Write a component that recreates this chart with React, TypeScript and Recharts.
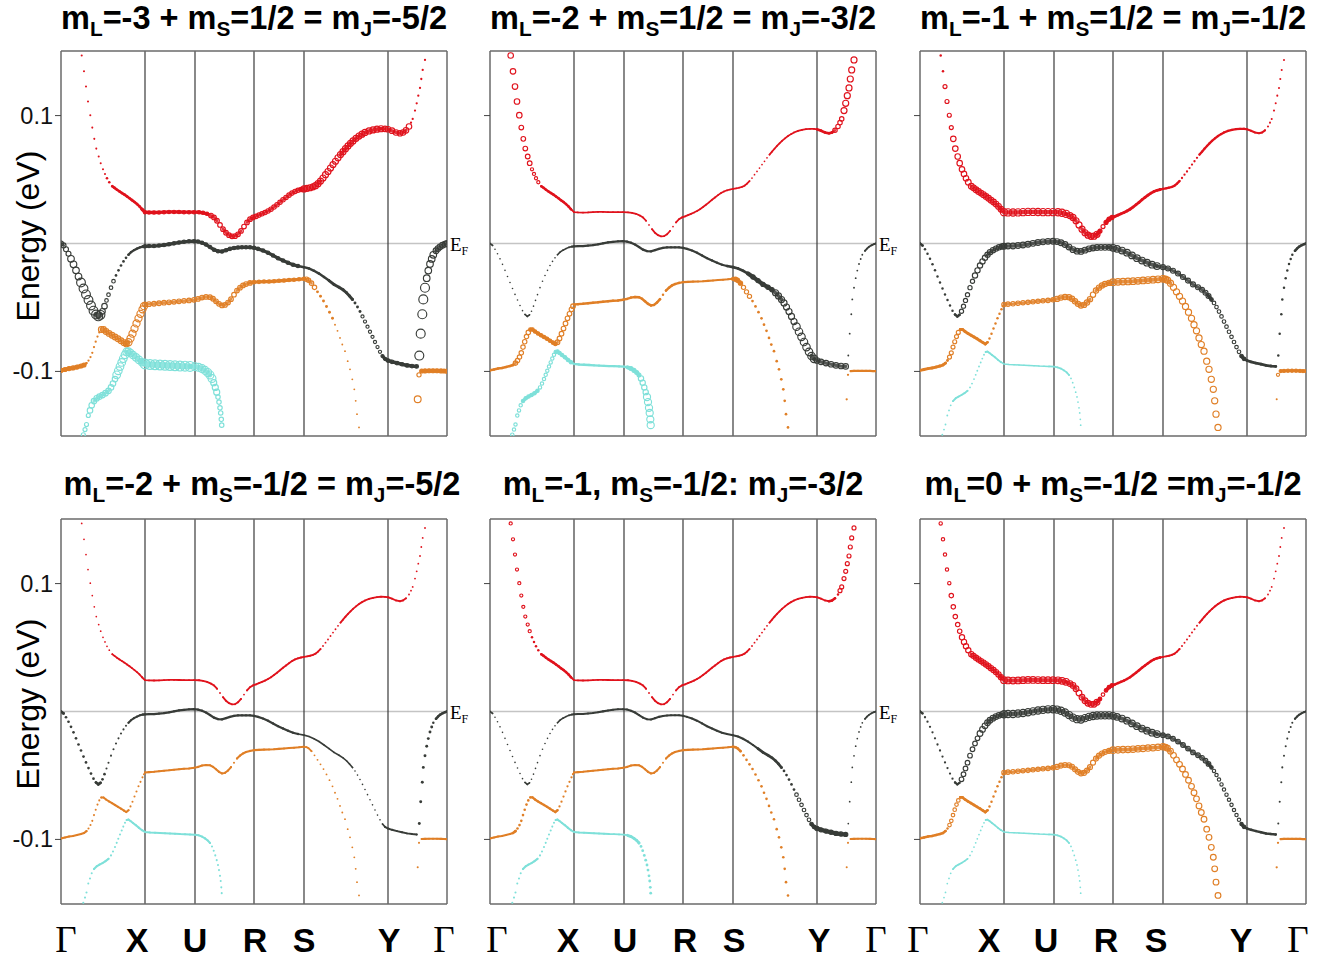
import React from 'react';
import { ComposedChart, Line, Scatter, XAxis, YAxis, ReferenceLine } from 'recharts';

type Pt = [number, number];
type Wt = [number, number];

// path length along Γ-X-U-R-S-Y-Γ (arbitrary units) and energies in eV
const PATH_TICKS = [0, 84, 134, 193, 243, 327, 386];
const PATH_LABELS = ['Γ', 'X', 'U', 'R', 'S', 'Y', 'Γ'];
const ENERGY_TICKS = [0.1, -0.1];
const E_RANGE: [number, number] = [-0.1505, 0.1505];

const RED_BAND: Pt[] = [
  [20.7, 0.147], [23, 0.1346], [25, 0.1227], [27, 0.111], [29.3, 0.1003], [31.3, 0.0906],
  [33.3, 0.0818], [35.3, 0.0742], [37.7, 0.068], [39.7, 0.0628], [42, 0.058], [44, 0.0544],
  [46, 0.051], [48.3, 0.0479], [51.3, 0.0448], [53.5, 0.0435], [56, 0.042], [58.5, 0.0407],
  [61, 0.0394], [63.5, 0.0382], [66, 0.0368], [68.5, 0.0354], [71, 0.0339], [73.5, 0.0324],
  [76, 0.0308], [78.5, 0.029], [81, 0.0268], [84, 0.0245], [88, 0.0243], [93, 0.0242],
  [98, 0.0243], [103, 0.0245], [108, 0.0247], [113, 0.0247], [118, 0.0246], [123, 0.0245],
  [128, 0.0245], [133, 0.0245], [138, 0.0244], [142, 0.024], [146, 0.0232], [150, 0.0218],
  [153, 0.0204], [156, 0.0178], [159, 0.0145], [162, 0.0112], [165, 0.0084], [168, 0.0065],
  [171, 0.0056], [174, 0.0057], [177, 0.0072], [180, 0.0098], [183, 0.0132], [186, 0.0165],
  [189, 0.019], [192, 0.0204], [195, 0.0212], [198, 0.0222], [201, 0.0232], [204, 0.0242],
  [207, 0.0254], [210, 0.0268], [213, 0.0285], [216, 0.0303], [219, 0.0322], [222, 0.0342],
  [225, 0.036], [228, 0.0378], [231, 0.0394], [234, 0.0407], [237, 0.0416], [240, 0.0422],
  [243, 0.0427], [246, 0.0431], [249, 0.0436], [252, 0.0443], [254.5, 0.0452], [257, 0.0468],
  [259.5, 0.0488], [262, 0.0512], [264.5, 0.0538], [267, 0.0563], [269.5, 0.059], [272, 0.0617],
  [274.5, 0.0643], [277, 0.067], [279.5, 0.0695], [282, 0.0718], [284.5, 0.0741], [287, 0.0763],
  [289.5, 0.0783], [292, 0.0802], [295, 0.0822], [298, 0.084], [301, 0.0855], [304, 0.0868],
  [308, 0.088], [312, 0.0888], [316, 0.0894], [320, 0.0897], [324, 0.0896], [327, 0.0893],
  [331, 0.0882], [335, 0.0868], [339, 0.0862], [342, 0.0868], [345, 0.0885], [348, 0.0915],
  [350, 0.0945], [351.7, 0.0974], [354, 0.1039], [355.7, 0.1096], [357.3, 0.1156], [359, 0.1216],
  [360.3, 0.1286], [361.7, 0.1357], [364, 0.1435],
];

const GRAY_BAND: Pt[] = [
  [0, 0], [2.5, -0.0015], [5, -0.0045], [7.5, -0.008], [10, -0.012], [12.5, -0.0163],
  [15, -0.021], [17.5, -0.0258], [20, -0.0305], [22.5, -0.0352], [25, -0.0398], [27.5, -0.0442],
  [30, -0.0485], [32.5, -0.0525], [35, -0.0555], [37.3, -0.057], [39.5, -0.0558], [41.5, -0.053],
  [43.5, -0.049], [45.5, -0.0445], [47.5, -0.04], [50, -0.0345], [52.5, -0.0295], [55, -0.025],
  [57.5, -0.021], [60, -0.0172], [62.5, -0.014], [65, -0.0112], [67.5, -0.0088], [70, -0.0068],
  [73, -0.0052], [76, -0.004], [79, -0.003], [82, -0.0024], [84, -0.0022], [88, -0.002],
  [93, -0.002], [98, -0.0016], [103, -0.0012], [108, -0.0006], [113, 0.0001], [118, 0.0008],
  [123, 0.0013], [128, 0.0017], [133, 0.0018], [137, 0.0015], [141, 0.0006], [145, -0.0008],
  [149, -0.0028], [153, -0.0048], [157, -0.006], [161, -0.0062], [165, -0.0052], [169, -0.0042],
  [173, -0.0035], [177, -0.0031], [181, -0.003], [185, -0.003], [189, -0.003], [193, -0.0034],
  [197, -0.0042], [202, -0.0055], [207, -0.0072], [212, -0.0093], [217, -0.0115], [222, -0.0133],
  [227, -0.015], [232, -0.0166], [237, -0.0176], [243, -0.0185], [248, -0.0195], [253, -0.0213],
  [258, -0.0235], [263, -0.0262], [268, -0.029], [273, -0.032], [278, -0.0342], [282, -0.0362],
  [285.5, -0.0385], [288.5, -0.041], [291.5, -0.0438], [294, -0.0465], [296.5, -0.0497],
  [299, -0.0532], [301.5, -0.057], [304, -0.061], [306.5, -0.065], [309, -0.069], [311.5, -0.073],
  [314, -0.077], [316.5, -0.081], [319, -0.0847], [321.5, -0.088], [324, -0.0902], [327, -0.0915],
  [331, -0.0925], [336, -0.0935], [341, -0.0944], [346, -0.0953], [351, -0.0958], [355.7, -0.0961],
  [358.3, -0.0876], [359.7, -0.0705], [361.3, -0.0553], [362.3, -0.0437], [364, -0.0346],
  [365.7, -0.0271], [367.3, -0.0212], [369, -0.016], [370.7, -0.0121], [372.3, -0.0088],
  [375, -0.0057], [377, -0.004], [379, -0.0026], [381.5, -0.0014], [384, -0.0005], [386, 0],
];

const ORANGE_BAND: Pt[] = [
  [0, -0.0992], [4, -0.0985], [8, -0.0978], [12, -0.0973], [16, -0.0966], [20, -0.0958],
  [23, -0.095], [25.5, -0.0935], [27.5, -0.0915], [29.5, -0.0888], [31.3, -0.0855], [33, -0.081],
  [34.7, -0.0768], [36.5, -0.0728], [38.3, -0.0695], [40.3, -0.0672], [42.5, -0.0672],
  [45, -0.0688], [48, -0.0703], [51, -0.0717], [54, -0.0731], [57, -0.0745], [60, -0.076],
  [63, -0.0775], [65.3, -0.0786], [67.5, -0.0772], [69.5, -0.0742], [71.5, -0.0705],
  [73.5, -0.0665], [75.5, -0.0625], [77.5, -0.0585], [79.5, -0.055], [81.5, -0.0515], [83, -0.049],
  [84, -0.0477], [88, -0.0474], [93, -0.0471], [98, -0.0467], [103, -0.0463], [108, -0.046],
  [113, -0.0456], [118, -0.0452], [123, -0.0448], [128, -0.0445], [133, -0.044], [137, -0.0433],
  [141, -0.0423], [145, -0.0418], [149, -0.042], [152, -0.0432], [155, -0.0452], [158, -0.0472],
  [161, -0.0484], [164, -0.048], [167, -0.0462], [170, -0.0435], [173, -0.04], [176, -0.0368],
  [179, -0.0345], [182, -0.0328], [185, -0.0317], [189, -0.0308], [193, -0.0302], [198, -0.03],
  [203, -0.0298], [208, -0.0297], [213, -0.0295], [218, -0.0292], [223, -0.0289], [228, -0.0286],
  [233, -0.0283], [238, -0.028], [243, -0.0276], [245.5, -0.0279], [247.5, -0.0287],
  [250.5, -0.031], [253.5, -0.0343], [256.5, -0.0378], [259.5, -0.0413], [262.5, -0.045],
  [265.5, -0.0492], [268.5, -0.0537], [271.5, -0.0585], [274, -0.0635], [276.5, -0.0683],
  [279, -0.0738], [281.3, -0.079], [284, -0.0842], [286.7, -0.092], [289, -0.0984],
  [291.3, -0.1062], [293.3, -0.114], [294.7, -0.123], [296, -0.1334], [298, -0.1438],
  [356.7, -0.1218], [358, -0.1027], [360.7, -0.0997], [364, -0.0996], [368, -0.0995],
  [372, -0.0995], [376, -0.0995], [380, -0.0996], [383, -0.0997], [386, -0.0998],
];

const CYAN_BAND: Pt[] = [
  [22.3, -0.1495], [24, -0.1455], [25.5, -0.1415], [27.3, -0.1345], [29, -0.1305], [30.7, -0.1265],
  [33, -0.1232], [35.7, -0.121], [38.5, -0.1197], [41.5, -0.1185], [44.5, -0.117], [47.5, -0.1152],
  [50, -0.1125], [52, -0.1095], [54, -0.106], [55.7, -0.1027], [57.3, -0.0995], [59, -0.0962],
  [60.7, -0.093], [62.3, -0.09], [64, -0.087], [65.7, -0.0848], [67.5, -0.0845], [69.5, -0.0856],
  [72, -0.0872], [75, -0.089], [78, -0.091], [81, -0.0928], [84, -0.0942], [89, -0.0946],
  [94, -0.0948], [99, -0.095], [104, -0.0952], [109, -0.0954], [114, -0.0956], [119, -0.0958],
  [124, -0.0959], [129, -0.0961], [134, -0.0963], [137.5, -0.0968], [141, -0.0978], [144, -0.0992],
  [146.7, -0.1008], [149, -0.1028], [151, -0.1055], [152.7, -0.1088], [154.3, -0.1125],
  [155.7, -0.1162], [157, -0.12], [158, -0.124], [159, -0.1285], [159.7, -0.1325], [160.3, -0.1375],
  [160.7, -0.142],
];

// projected weight of each band, as [path position from which it holds, weight]
const P1_RED: Wt[] = [[0, 0.08], [46, 0.13], [84, 0.2], [150, 0.32], [193, 0.3], [243, 0.45], [322, 0.4], [349, 0.1]];
const P1_GRAY: Wt[] = [[0, 0.35], [8, 0.5], [18, 0.7], [40, 0.4], [45, 0.22], [55, 0.14], [70, 0.1], [84, 0.2], [243, 0.12], [270, 0.16], [300, 0.18], [327, 0.22], [357, 0.72], [365, 0.5], [374, 0.42]];
const P1_ORANGE: Wt[] = [[0, 0.26], [24, 0.1], [39, 0.42], [66, 0.55], [84, 0.32], [193, 0.2], [244, 0.3], [256, 0.16], [272, 0.06], [356, 0.52], [357.5, 0.28], [359, 0.26]];
const P1_CYAN: Wt[] = [[0, 0.26], [29, 0.4], [55, 0.6], [66, 0.58], [84, 0.8], [134, 0.62], [152, 0.45], [157, 0.3]];

const P2_RED: Wt[] = [[0, 0.4], [31, 0.32], [40, 0.18], [50, 0.12], [84, 0.05], [330, 0.14], [345, 0.3], [352, 0.45]];
const P2_GRAY: Wt[] = [[0, 0.04], [84, 0.1], [243, 0.14], [262, 0.28], [285, 0.45], [305, 0.58], [327, 0.4], [356, 0.06]];
const P2_ORANGE: Wt[] = [[0, 0.12], [25, 0.3], [40, 0.2], [66, 0.32], [84, 0.12], [193, 0.08], [244, 0.28], [262, 0.14], [356, 0.1]];
const P2_CYAN: Wt[] = [[0, 0.2], [84, 0.1], [140, 0.25], [150, 0.38], [156, 0.55]];

const P3_RED: Wt[] = [[0, 0.12], [24, 0.26], [33, 0.4], [48, 0.42], [84, 0.56], [150, 0.45], [180, 0.26], [193, 0.15], [243, 0.1], [327, 0.08]];
const P3_GRAY: Wt[] = [[0, 0.12], [40, 0.28], [55, 0.38], [84, 0.42], [193, 0.5], [243, 0.35], [290, 0.22], [327, 0.15], [356, 0.12]];
const P3_ORANGE: Wt[] = [[0, 0.16], [28, 0.26], [40, 0.16], [66, 0.12], [84, 0.3], [134, 0.38], [193, 0.5], [244, 0.46], [356, 0.08], [358, 0.18]];
const P3_CYAN: Wt[] = [[0, 0.06], [84, 0.03], [134, 0.05]];

const P4_RED: Wt[] = [[0, 0.05], [84, 0.06], [350, 0.06]];
const P4_GRAY: Wt[] = [[0, 0.14], [45, 0.08], [84, 0.1], [243, 0.04], [327, 0.07], [356, 0.16], [372, 0.12]];
const P4_ORANGE: Wt[] = [[0, 0.08], [244, 0.06], [356, 0.08]];
const P4_CYAN: Wt[] = [[0, 0.08]];

const P5_RED: Wt[] = [[0, 0.18], [40, 0.12], [84, 0.06], [340, 0.12], [350, 0.26]];
const P5_GRAY: Wt[] = [[0, 0.04], [84, 0.08], [270, 0.14], [305, 0.22], [327, 0.28], [356, 0.05]];
const P5_ORANGE: Wt[] = [[0, 0.08], [25, 0.13], [40, 0.1], [84, 0.08], [244, 0.13], [356, 0.08]];
const P5_CYAN: Wt[] = [[0, 0.08], [84, 0.06], [140, 0.15]];

const P6_RED: Wt[] = [[0, 0.2], [30, 0.3], [40, 0.38], [84, 0.5], [150, 0.42], [180, 0.22], [193, 0.12], [243, 0.07], [327, 0.06]];
const P6_GRAY: Wt[] = [[0, 0.1], [40, 0.32], [60, 0.42], [84, 0.56], [193, 0.5], [243, 0.32], [290, 0.2], [327, 0.12], [356, 0.08]];
const P6_ORANGE: Wt[] = [[0, 0.12], [28, 0.22], [40, 0.14], [66, 0.12], [84, 0.3], [134, 0.35], [193, 0.48], [244, 0.42], [356, 0.1]];
const P6_CYAN: Wt[] = [[0, 0.05], [84, 0.03], [134, 0.05]];

// title pieces that follow m_L, m_S and m_J
const TITLE_1 = ['=-3 + ', '=1/2 = ', '=-5/2'];
const TITLE_2 = ['=-2 + ', '=1/2 = ', '=-3/2'];
const TITLE_3 = ['=-1 + ', '=1/2 = ', '=-1/2'];
const TITLE_4 = ['=-2 + ', '=-1/2 = ', '=-5/2'];
const TITLE_5 = ['=-1, ', '=-1/2: ', '=-3/2'];
const TITLE_6 = ['=0 + ', '=-1/2 =', '=-1/2'];

const BANDS = [RED_BAND, GRAY_BAND, ORANGE_BAND, CYAN_BAND];
const BAND_COLORS = ['#e0121c', '#383c38', '#e07f26', '#7ee0d9'];

const PANELS = [
  { col: 0, row: 0, title: TITLE_1, weights: [P1_RED, P1_GRAY, P1_ORANGE, P1_CYAN] },
  { col: 1, row: 0, title: TITLE_2, weights: [P2_RED, P2_GRAY, P2_ORANGE, P2_CYAN] },
  { col: 2, row: 0, title: TITLE_3, weights: [P3_RED, P3_GRAY, P3_ORANGE, P3_CYAN] },
  { col: 0, row: 1, title: TITLE_4, weights: [P4_RED, P4_GRAY, P4_ORANGE, P4_CYAN] },
  { col: 1, row: 1, title: TITLE_5, weights: [P5_RED, P5_GRAY, P5_ORANGE, P5_CYAN] },
  { col: 2, row: 1, title: TITLE_6, weights: [P6_RED, P6_GRAY, P6_ORANGE, P6_CYAN] },
];

const PLOT_LEFT = [61, 490, 920];
const PLOT_TOP = [51, 519];
const PLOT_W = 386;
const PLOT_H = 385;
const PX_PER_EV = PLOT_H / (E_RANGE[1] - E_RANGE[0]);
const SANS = '"Liberation Sans", Arial, Helvetica, sans-serif';
const SERIF = '"Liberation Serif", "Times New Roman", serif';
// the k-point letters sit a little off their lines in the original
const LABEL_SHIFT = [
  [5, -8, 0, 1, 0, 1, -3],
  [7, -6, 1, 2, 1, 2, 0],
  [-2, -15, -8, -7, -7, -6, -8],
];
const TITLE_SHIFT = [0, 0, 0, 8, 0, 0];

function weightAt(table: Wt[], k: number) {
  let w = table[0][1];
  for (const [k0, v] of table) if (k >= k0) w = v;
  return w;
}

type BandPoint = { k: number; E: number; r: number };

// consecutive points are joined where the band is flat enough that the
// original's dense dots merge into a stroke; steep parts stay separate dots.
// a new run starts (sharing its first point) wherever the dot size changes
function lineRuns(pts: BandPoint[]) {
  const runs: BandPoint[][] = [];
  let cur: BandPoint[] = [pts[0]];
  for (let i = 1; i < pts.length; i++) {
    const a = pts[i - 1];
    const b = pts[i];
    const dk = b.k - a.k;
    const slope = (Math.abs(b.E - a.E) * PX_PER_EV) / dk;
    if (slope > 1.2 || dk >= 12) {
      if (cur.length > 1) runs.push(cur);
      cur = [b];
    } else if (Math.abs(a.r - b.r) > 0.01 && cur.length > 1) {
      runs.push(cur);
      cur = [a, b];
    } else cur.push(b);
  }
  if (cur.length > 1) runs.push(cur);
  return runs;
}

function BandDot(props: any) {
  const { cx, cy, payload, color } = props;
  if (cx == null || cy == null) return <g />;
  const r = payload.r;
  if (r < 1.5) return <circle cx={cx} cy={cy} r={r} fill={color} stroke="none" />;
  return <circle cx={cx} cy={cy} r={r} fill="none" stroke={color} strokeWidth={1.15} />;
}

function Title({ parts }: { parts: string[] }) {
  const sub: React.CSSProperties = { fontSize: '0.64em', position: 'relative', top: '0.32em' };
  return (
    <span>
      m<span style={sub}>L</span>{parts[0]}m<span style={sub}>S</span>{parts[1]}m<span style={sub}>J</span>{parts[2]}
    </span>
  );
}

function Panel({ cfg, index }: { cfg: (typeof PANELS)[number]; index: number }) {
  const left = PLOT_LEFT[cfg.col];
  const top = PLOT_TOP[cfg.row];
  const showY = cfg.col === 0;
  const showX = cfg.row === 1;
  const showEF = cfg.col < 2;

  const bands = BANDS.map((band, bi) => {
    const pts = band.map(([k, E]) => ({ k, E, r: 0.6 + 5.4 * weightAt(cfg.weights[bi], k) }));
    return { pts, runs: lineRuns(pts), color: BAND_COLORS[bi] };
  });

  const yTick = (p: any) =>
    showY ? (
      <text x={p.x} y={p.y} dy={8} textAnchor="end" fontFamily={SANS} fontSize={23.5} fill="#111">
        {String(p.payload.value)}
      </text>
    ) : (
      <g />
    );

  const xTick = (p: any) => {
    if (!showX) return <g />;
    const idx = PATH_TICKS.indexOf(p.payload.value);
    const label = PATH_LABELS[idx];
    const greek = label === 'Γ';
    return (
      <text
        x={p.x + LABEL_SHIFT[cfg.col][idx]}
        y={p.y}
        dy={40}
        textAnchor="middle"
        fontFamily={greek ? SERIF : SANS}
        fontWeight={greek ? 'normal' : 'bold'}
        fontSize={greek ? 37 : 34}
        fill="#000"
      >
        {label}
      </text>
    );
  };

  return (
    <>
      <div
        style={{
          position: 'absolute',
          left: left - 30 + TITLE_SHIFT[index],
          top: cfg.row === 0 ? 2 : 468,
          width: PLOT_W + 60,
          textAlign: 'center',
          fontFamily: SANS,
          fontWeight: 'bold',
          fontSize: 32.5,
          lineHeight: 1,
          whiteSpace: 'pre',
          color: '#000',
        }}
      >
        <Title parts={cfg.title} />
      </div>
      <div style={{ position: 'absolute', left: left - 60, top: top - 10 }}>
        <ComposedChart width={476} height={465} margin={{ top: 10, right: 30, bottom: 0, left: 0 }}>
          <XAxis
            type="number"
            dataKey="k"
            domain={[0, PLOT_W]}
            ticks={PATH_TICKS}
            interval={0}
            allowDataOverflow
            axisLine={false}
            tickLine={false}
            height={70}
            tick={xTick}
          />
          <YAxis
            type="number"
            dataKey="E"
            domain={E_RANGE}
            ticks={ENERGY_TICKS}
            interval={0}
            allowDataOverflow
            axisLine={false}
            tickLine={{ stroke: '#444', strokeWidth: 1 }}
            tickSize={6}
            width={60}
            tick={yTick}
          />
          <ReferenceLine y={0} stroke="#c4c4c4" strokeWidth={1.5} />
          {PATH_TICKS.slice(1, -1).map((k) => (
            <ReferenceLine key={k} x={k} stroke="#3a3a3a" strokeWidth={1.2} />
          ))}
          <ReferenceLine x={0} stroke="#6a6a6a" strokeWidth={1.5} />
          <ReferenceLine x={PLOT_W} stroke="#6a6a6a" strokeWidth={1.5} />
          <ReferenceLine y={E_RANGE[0]} stroke="#6a6a6a" strokeWidth={1.5} />
          <ReferenceLine y={E_RANGE[1]} stroke="#6a6a6a" strokeWidth={1.5} />
          {bands.map((b, bi) =>
            b.runs.map((run, ri) => {
              const r = run[run.length - 1].r;
              return (
                <Line
                  key={`l${bi}-${ri}`}
                  data={run}
                  dataKey="E"
                  type="linear"
                  stroke={b.color}
                  strokeWidth={r < 2.2 ? Math.max(1.4, 2 * r) : 1.2 * r}
                  strokeLinecap="round"
                  strokeOpacity={r < 2.2 ? 1 : 0.85}
                  dot={false}
                  activeDot={false}
                  isAnimationActive={false}
                />
              );
            })
          )}
          {bands.map((b, bi) => (
            <Scatter
              key={`s${bi}`}
              data={b.pts}
              dataKey="E"
              isAnimationActive={false}
              shape={(p: any) => <BandDot {...p} color={b.color} />}
            />
          ))}
        </ComposedChart>
      </div>
      {showEF && (
        <div
          style={{
            position: 'absolute',
            left: left + PLOT_W + 3,
            top: top + 184,
            fontFamily: SERIF,
            fontSize: 19,
            lineHeight: 1,
            color: '#000',
          }}
        >
          E<span style={{ fontSize: 12, position: 'relative', top: 4 }}>F</span>
        </div>
      )}
    </>
  );
}

export default function App() {
  return (
    <div style={{ position: 'absolute', left: 0, top: 0, width: 1324, height: 959, background: '#fff', overflow: 'hidden' }}>
      {PLOT_TOP.map((t, i) => (
        <div
          key={i}
          style={{
            position: 'absolute',
            left: 28 - 110,
            top: t + 185 - 17,
            width: 220,
            textAlign: 'center',
            transform: 'rotate(-90deg)',
            fontFamily: SANS,
            fontSize: 32,
            lineHeight: '34px',
            color: '#000',
          }}
        >
          Energy (eV)
        </div>
      ))}
      {PANELS.map((cfg, i) => (
        <Panel key={i} cfg={cfg} index={i} />
      ))}
    </div>
  );
}
